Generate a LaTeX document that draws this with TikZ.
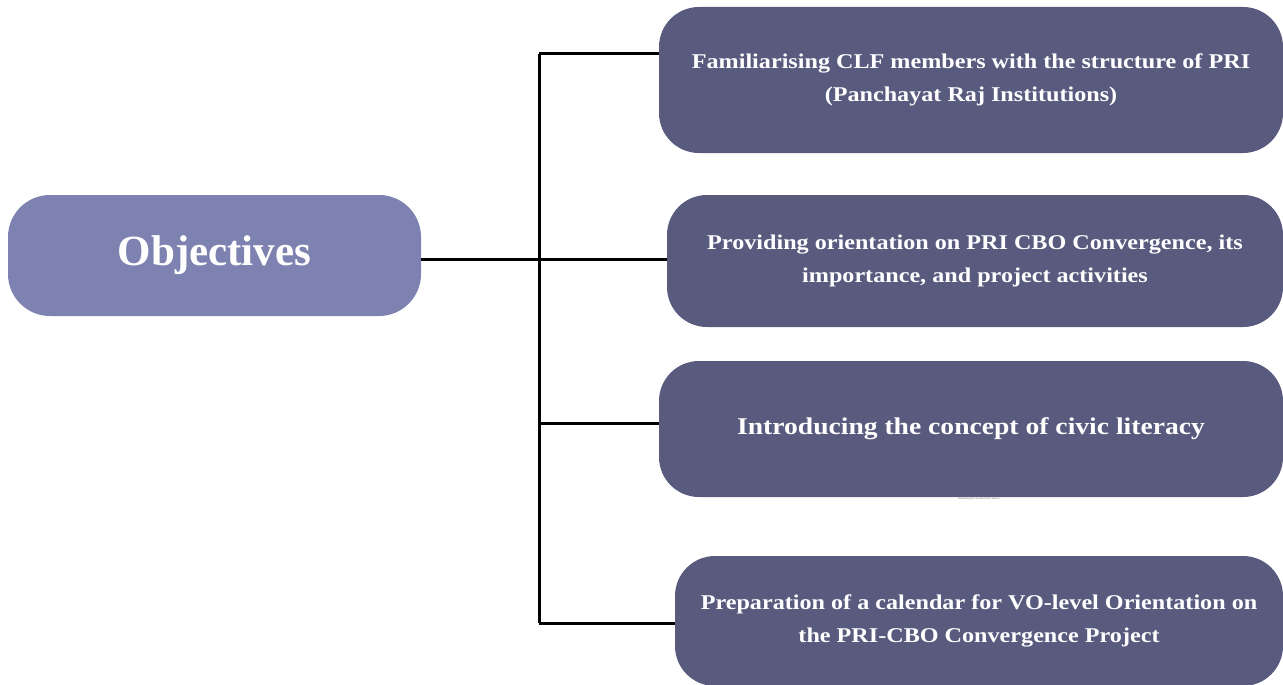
\documentclass[tikz,border=0pt]{standalone}
\usepackage{fontspec}
\setmainfont{Liberation Serif}
\newfontfamily\boxfont[FakeStretch=1.15]{Liberation Serif}
\definecolor{headfill}{HTML}{7E82B1}
\definecolor{itemfill}{HTML}{585B7E}
\tikzset{
  headbox/.style={fill=headfill, rounded corners=42pt, inner sep=0pt,
    minimum width=413pt, minimum height=121pt, text=white,
    font=\fontsize{43}{50}\selectfont\bfseries},
  itembox/.style={fill=itemfill, rounded corners=40pt, inner sep=0pt,
    text=white, align=center,
    font=\boxfont\fontsize{21}{33}\selectfont\bfseries},
  link/.style={line width=3pt, draw=black}
}
\begin{document}
\begin{tikzpicture}[x=1pt, y=-1pt]
  \useasboundingbox (0,0) rectangle (1283,685);
  \clip (0,0) rectangle (1283,685);

  % central heading
  \node[headbox] (obj) at (214.5,255.5) {Objectives};

  % objective boxes
  \node[itembox, minimum width=624pt, minimum height=146pt] (b1) at (971,80)
    {Familiarising CLF members with the structure of PRI\\(Panchayat Raj Institutions)};
  \node[itembox, minimum width=616pt, minimum height=132pt] (b2) at (975,261)
    {Providing orientation on PRI CBO Convergence, its\\importance, and project activities};
  \node[itembox, minimum width=624pt, minimum height=136pt,
    font=\boxfont\fontsize{24}{30}\selectfont\bfseries] (b3) at (971,429)
    {Introducing the concept of civic literacy};
  \node[itembox, minimum width=608pt, minimum height=130pt] (b4) at (979,621)
    {Preparation of a calendar for VO-level Orientation on\\the PRI-CBO Convergence Project};
  \node[text=black!60, inner sep=0pt, font=\fontsize{2.6}{3}\selectfont] (cap) at (979,499)
    {Introducing the concept of civic literacy};

  % branch points on the spine
  \coordinate (j1) at (539,54);
  \coordinate (j2) at (539,259);
  \coordinate (j3) at (539,423);
  \coordinate (j4) at (539,623);

  % connectors
  \draw[link] (j1) -- (j4);
  \draw[link] (obj.east |- j2) -- (j2);
  \draw[link] (j2) -- (j2 -| b2.west);
  \draw[link] (j1) -- (j1 -| b1.west);
  \draw[link] (j3) -- (j3 -| b3.west);
  \draw[link] (j4) -- (j4 -| b4.west);
\end{tikzpicture}
\end{document}
